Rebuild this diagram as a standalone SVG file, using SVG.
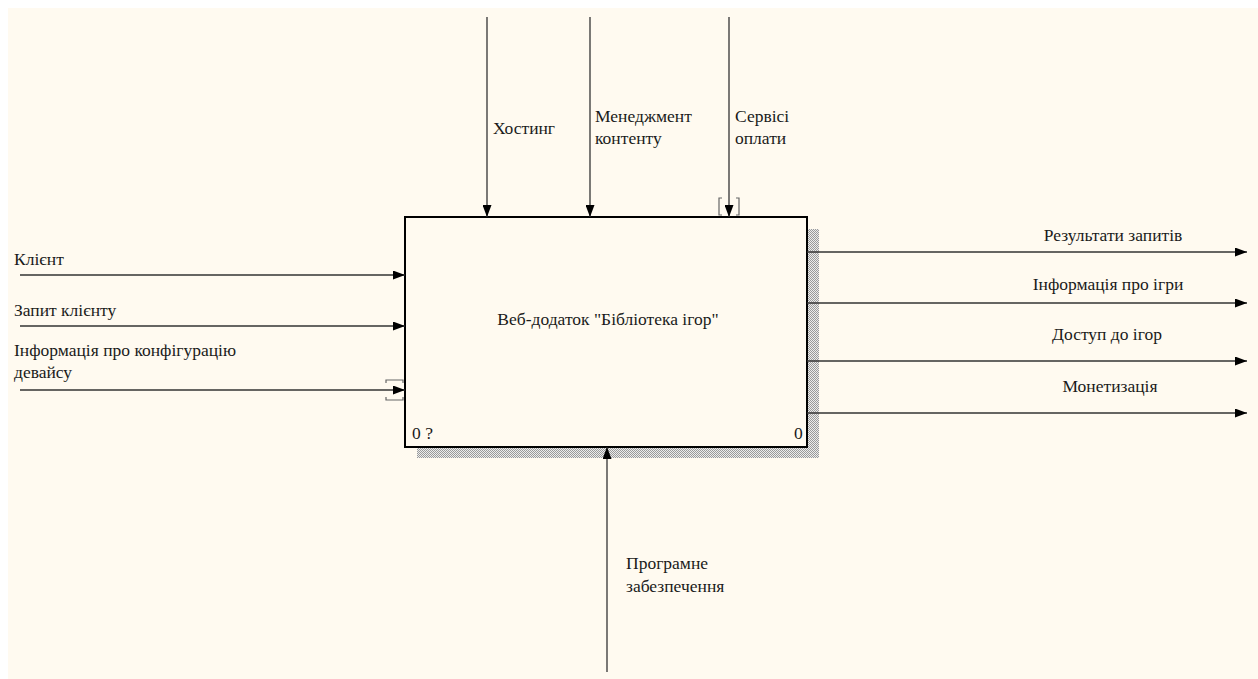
<svg xmlns="http://www.w3.org/2000/svg" width="1258" height="679" viewBox="0 0 1258 679">
<style>
.t{font-family:'Liberation Serif','Times New Roman',serif;font-size:17.5px;fill:#1a1a1a}
.m{text-anchor:middle}
.c{fill:none;stroke:#333;stroke-width:1.3}
.br{fill:none;stroke:#666;stroke-width:1.2}
</style>
<defs>
<pattern id="hatch" width="2" height="2" patternUnits="userSpaceOnUse">
<rect width="2" height="2" fill="#ececec"/>
<rect width="1" height="1" fill="#9a9a9a"/>
<rect x="1" y="1" width="1" height="1" fill="#9a9a9a"/>
</pattern>
<marker id="ah" markerWidth="12" markerHeight="9" refX="12" refY="4.5" orient="auto" markerUnits="userSpaceOnUse">
<path d="M0,0 L12,4.5 L0,9 Z" fill="#000"/>
</marker>
</defs>
<rect x="0" y="0" width="1258" height="679" fill="#fff"/>
<rect x="8" y="8" width="1250" height="671" fill="#fffaf0"/>

<g id="node-A0">
<rect x="417" y="229" width="402" height="229" fill="url(#hatch)"/>
<rect x="405" y="217" width="402" height="230" fill="#fffaf0" stroke="#000" stroke-width="2"/>
<text class="t m" x="608" y="325">Веб-додаток "Бібліотека ігор"</text>
<text class="t" x="412" y="439">0 ?</text>
<text class="t" x="794" y="439">0</text>
</g>

<g id="connectors">
<line class="c" x1="487" y1="17" x2="487" y2="217" marker-end="url(#ah)"/>
<line class="c" x1="590" y1="17" x2="590" y2="217" marker-end="url(#ah)"/>
<line class="c" x1="729" y1="17" x2="729" y2="217" marker-end="url(#ah)"/>
<path class="br" d="M722,198 h-3 v17 h3 M736,198 h3 v17 h-3"/>
<line class="c" x1="607" y1="672" x2="607" y2="447" marker-end="url(#ah)"/>
<line class="c" x1="20" y1="275" x2="405" y2="275" marker-end="url(#ah)"/>
<line class="c" x1="20" y1="326" x2="405" y2="326" marker-end="url(#ah)"/>
<line class="c" x1="20" y1="390" x2="405" y2="390" marker-end="url(#ah)"/>
<path class="br" d="M386,383 v-3 h17 v3 M386,397 v3 h17 v-3"/>
<line class="c" x1="807" y1="252" x2="1247" y2="252" marker-end="url(#ah)"/>
<line class="c" x1="807" y1="303" x2="1247" y2="303" marker-end="url(#ah)"/>
<line class="c" x1="807" y1="361" x2="1247" y2="361" marker-end="url(#ah)"/>
<line class="c" x1="807" y1="413" x2="1247" y2="413" marker-end="url(#ah)"/>
</g>

<g id="labels">
<text class="t" x="493" y="134">Хостинг</text>
<text class="t" x="595" y="122">Менеджмент</text>
<text class="t" x="595" y="144">контенту</text>
<text class="t" x="735" y="122">Сервісі</text>
<text class="t" x="735" y="144">оплати</text>
<text class="t" x="14" y="265">Клієнт</text>
<text class="t" x="14" y="316">Запит клієнту</text>
<text class="t" x="14" y="356">Інформація про конфігурацію</text>
<text class="t" x="14" y="378">девайсу</text>
<text class="t m" x="1113" y="241">Результати запитів</text>
<text class="t m" x="1108" y="290">Інформація про ігри</text>
<text class="t m" x="1107" y="340">Доступ до ігор</text>
<text class="t m" x="1110" y="392">Монетизація</text>
<text class="t" x="626" y="569">Програмне</text>
<text class="t" x="626" y="592">забезпечення</text>
</g>
</svg>
